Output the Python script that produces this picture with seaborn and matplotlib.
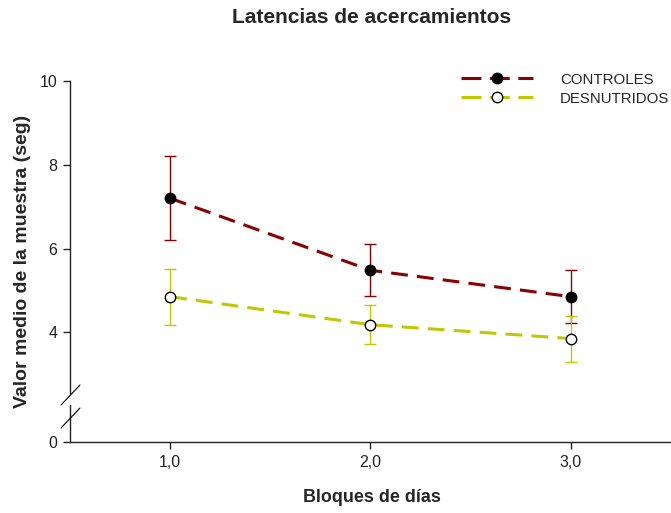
import pandas as pd
import matplotlib
matplotlib.use("Agg")
import matplotlib.pyplot as plt
from matplotlib.lines import Line2D
import seaborn as sns

# data
bloques = [1.0, 2.0, 3.0]
controles = [7.20, 5.48, 4.85]
controles_err = [1.00, 0.62, 0.63]
desnutridos = [4.85, 4.18, 3.85]
desnutridos_err = [0.67, 0.47, 0.55]
grupos = ["CONTROLES", "DESNUTRIDOS"]
xtick_labels = ["1,0", "2,0", "3,0"]

colores = {"CONTROLES": "#8b0000", "DESNUTRIDOS": "#bfc800"}
relleno = {"CONTROLES": "black", "DESNUTRIDOS": "white"}

df = pd.DataFrame({
    "Bloque": bloques * 2,
    "Valor": controles + desnutridos,
    "Error": controles_err + desnutridos_err,
    "Grupo": [grupos[0]] * 3 + [grupos[1]] * 3,
})

sns.set_theme(style="ticks")
plt.rcParams["font.family"] = ["Liberation Sans", "DejaVu Sans"]

fig = plt.figure(figsize=(6.71, 5.13), dpi=100)
ax = fig.add_axes([0.1043, 0.234, 0.8957, 0.608])
ax0 = fig.add_axes([0.1043, 0.1384, 0.8957, 0.0721], sharex=ax)

# error bars first so the lines sit on top
for g in grupos:
    sub = df[df["Grupo"] == g]
    ax.errorbar(sub["Bloque"], sub["Valor"], yerr=sub["Error"], fmt="none",
                ecolor=colores[g], elinewidth=1.0, capsize=4, capthick=1.0, zorder=2)

sns.lineplot(data=df, x="Bloque", y="Valor", hue="Grupo", palette=colores,
             ax=ax, legend=False, linewidth=2.2, zorder=3)
for line in ax.get_lines()[-2:]:
    line.set_dashes((5.5, 3.0))

for g in grupos:
    sub = df[df["Grupo"] == g]
    ax.plot(sub["Bloque"], sub["Valor"], linestyle="none", marker="o", markersize=7.5,
            markerfacecolor=relleno[g], markeredgecolor="black", markeredgewidth=1.0, zorder=4)

# legend
handles = [Line2D([], [], color=colores[g], linewidth=2.2, dashes=(6.5, 2.8),
                  marker="o", markersize=7.5, markerfacecolor=relleno[g],
                  markeredgecolor="black") for g in grupos]
ax.legend(handles, grupos, loc="upper right", bbox_to_anchor=(1.02, 1.07), frameon=False,
          fontsize=10.8, handlelength=4.8, handletextpad=1.8, labelspacing=0.33)

ax.set_xlim(0.5, 3.5)
ax.set_ylim(2.55, 10)
ax.set_yticks([4, 6, 8, 10])
ax.set_yticklabels(["4", "6", "8", "10"])
ax.set_xlabel("")
ax.set_ylabel("")
ax.tick_params(axis="x", bottom=False, labelbottom=False)
ax.spines[["top", "right", "bottom"]].set_visible(False)

ax0.set_ylim(0, 0.885)
ax0.set_yticks([0])
ax0.set_xticks(bloques)
ax0.set_xticklabels(xtick_labels)
ax0.spines[["top", "right"]].set_visible(False)

for a in (ax, ax0):
    a.tick_params(labelsize=11.5, length=5, width=1.0, pad=4, colors="#222222")
    for s in a.spines.values():
        s.set_linewidth(1.0)
        s.set_color("#222222")

# break marks on the y axis
kw = dict(color="black", linewidth=0.8, clip_on=False, transform=fig.transFigure)
for y0 in (385, 408):
    fig.lines.append(Line2D([61 / 671, 80 / 671], [1 - (y0 + 20) / 513, 1 - y0 / 513], **kw))

fig.text(0.553, 0.966, "Latencias de acercamientos", ha="center", va="center",
         fontsize=15, fontweight="bold")
fig.text(0.554, 0.031, "Bloques de días", ha="center", va="center",
         fontsize=12.9, fontweight="bold")
fig.text(0.033, 0.49, "Valor medio de la muestra (seg)", ha="center", va="center",
         rotation=90, fontsize=14, fontweight="bold")

plt.savefig("out.png", dpi=100)
